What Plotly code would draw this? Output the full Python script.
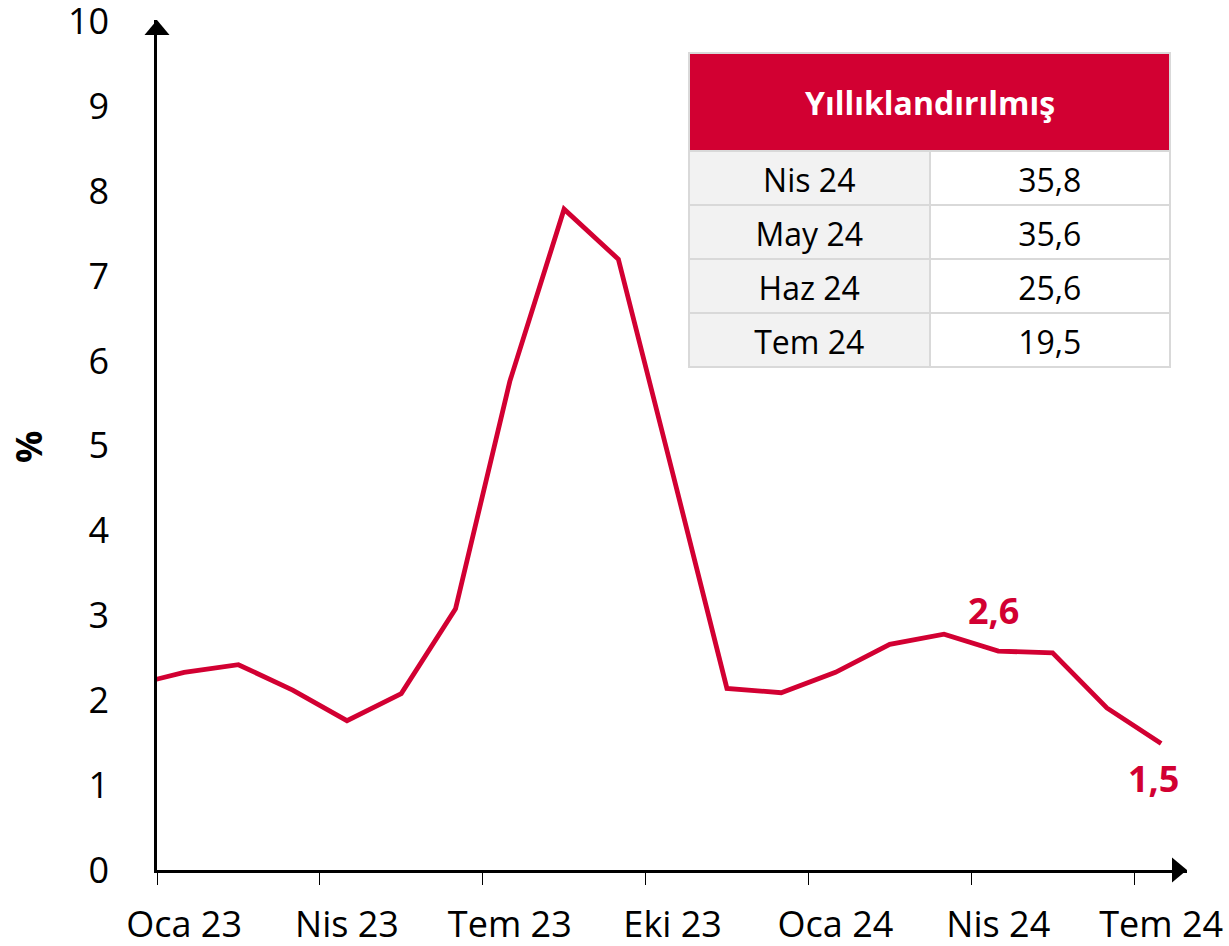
import plotly.graph_objects as go

# ---- data ----
months = ["Ara 22", "Oca 23", "Şub 23", "Mar 23", "Nis 23", "May 23", "Haz 23", "Tem 23",
          "Ağu 23", "Eyl 23", "Eki 23", "Kas 23", "Ara 23", "Oca 24", "Şub 24", "Mar 24",
          "Nis 24", "May 24", "Haz 24", "Tem 24"]
values = [2.17, 2.33, 2.42, 2.12, 1.76, 2.08, 3.08, 5.76, 7.79, 7.20, 4.68, 2.14, 2.09,
          2.33, 2.66, 2.78, 2.58, 2.56, 1.91, 1.49]

tick_labels = ["Oca 23", "Nis 23", "Tem 23", "Eki 23", "Oca 24", "Nis 24", "Tem 24"]

table_title = "Yıllıklandırılmış"
table_months = ["Nis 24", "May 24", "Haz 24", "Tem 24"]
table_values = ["35,8", "35,6", "25,6", "19,5"]

labelled = [("Nis 24", "2,6", -5, 41), ("Tem 24", "1,5", -8, -35)]

RED = "#D20032"
GRID = "#D9D9D9"
FONT = "Open Sans"
CLEAR = "rgba(0,0,0,0)"

W, H = 1229, 946
ML, MR, MT, MB = 157, 42, 20, 76
PW = W - ML - MR
PH = H - MT - MB

# month i occupies [i-1, i] with Jan 23 starting at 0; points at month centres
x_of = {m: i - 0.5 for i, m in enumerate(months)}
xs = [x_of[m] for m in months]
tick_centres = [x_of[m] for m in tick_labels]
tick_edges = [x_of[m] - 0.5 for m in tick_labels]

fig = go.Figure()
fig.add_trace(go.Scatter(x=xs, y=values, mode="lines",
                         line=dict(color=RED, width=4.8), showlegend=False, hoverinfo="skip"))

# table geometry (pixels -> domain fractions of plot area)
tx0, tx1, ty0, ty1 = 689, 1170, 53, 368
HEAD_H, ROW_H = 98, 54
def dom(shift):
    return dict(x=[(tx0 - ML) / PW, (tx1 - ML) / PW],
                y=[(H - MB - ty1 - shift) / PH, (H - MB - ty0 - shift) / PH])

# table body: fills and borders
fig.add_trace(go.Table(
    domain=dom(0), columnwidth=[1, 1],
    header=dict(values=["", ""], fill_color=RED, line=dict(color=GRID, width=2), height=HEAD_H),
    cells=dict(values=[[""] * len(table_months), [""] * len(table_values)],
               fill_color=[["#F2F2F2"] * 4, ["#FFFFFF"] * 4],
               line=dict(color=GRID, width=2), height=ROW_H),
))
# table text, set slightly lower so it sits in the middle of each row
fig.add_trace(go.Table(
    domain=dom(9), columnwidth=[1, 1],
    header=dict(values=["", ""], fill_color=CLEAR, line=dict(color=CLEAR, width=0), height=HEAD_H),
    cells=dict(values=[table_months, table_values],
               fill_color=CLEAR, line=dict(color=CLEAR, width=0),
               font=dict(family=FONT, size=32, color="#000000"),
               align="center", height=ROW_H),
))

annotations = [
    # merged header cell: red box spanning both columns with the title
    dict(text="<b>" + table_title + "</b>", xref="paper", yref="paper",
         x=((tx0 + tx1) / 2 - ML) / PW, y=(H - MB - (ty0 + HEAD_H / 2)) / PH,
         showarrow=False, font=dict(family=FONT, size=32, color="white"),
         xanchor="center", yanchor="middle", bgcolor=RED, borderpad=0, borderwidth=0,
         width=(tx1 - tx0) - 3, height=HEAD_H - 2, valign="middle"),
    dict(text="<b>%</b>", xref="paper", yref="paper", x=0, y=(H - MB - 447) / PH,
         xshift=28 - ML, textangle=-90, showarrow=False,
         font=dict(family=FONT, size=36, color="black"), xanchor="center", yanchor="middle"),
]
for m, t, dx, dy in labelled:
    annotations.append(dict(text="<b>" + t + "</b>", x=x_of[m], y=values[months.index(m)],
                            xref="x", yref="y", xshift=dx, yshift=dy, showarrow=False,
                            font=dict(family=FONT, size=36, color=RED)))

shapes = [
    dict(type="path", xref="paper", yref="paper", xsizemode="pixel", ysizemode="pixel",
         xanchor=1, yanchor=0, path="M -15,-12.5 L 0,0 L -15,12.5 Z",
         fillcolor="black", line=dict(width=0), layer="above"),
    dict(type="path", xref="paper", yref="paper", xsizemode="pixel", ysizemode="pixel",
         xanchor=0, yanchor=1, path="M -12.5,-15 L 0,0 L 12.5,-15 Z",
         fillcolor="black", line=dict(width=0), layer="above"),
]

x_max = tick_edges[0] + (W - MR - ML) / ((1134 - 157) / (tick_edges[-1] - tick_edges[0]))

fig.update_layout(
    width=W, height=H,
    margin=dict(l=ML, r=MR, t=MT, b=MB, pad=0, autoexpand=False),
    plot_bgcolor="white", paper_bgcolor="white",
    font=dict(family=FONT, size=36, color="black"),
    annotations=annotations, shapes=shapes,
    xaxis=dict(range=[tick_edges[0], x_max], tickmode="array", tickvals=tick_centres,
               ticktext=tick_labels, ticks="", showline=True, linecolor="black", linewidth=2.5,
               showgrid=False, zeroline=False, tickfont=dict(size=36), ticklabelstandoff=21,
               automargin=False, ticklabeloverflow="allow",
               minor=dict(tickmode="array", tickvals=tick_edges, ticks="outside", ticklen=12,
                          tickwidth=1, tickcolor="black", showgrid=False)),
    yaxis=dict(range=[0, 10.02], tickvals=list(range(0, 11)), ticks="",
               showline=True, linecolor="black", linewidth=2.5,
               showgrid=False, zeroline=False, tickfont=dict(size=36), ticklabelstandoff=38,
               automargin=False, ticklabeloverflow="allow"),
)

fig.write_html("out.html", config={"displayModeBar": False},
               post_script="document.body.style.margin='0';document.body.style.overflow='hidden';")
